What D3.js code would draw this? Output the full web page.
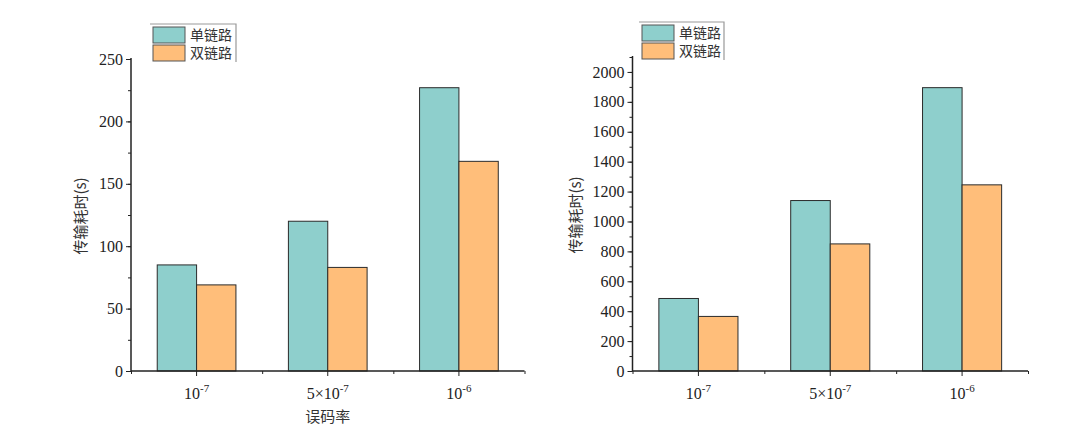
<!DOCTYPE html>
<html><head><meta charset="utf-8">
<script src="https://cdn.jsdelivr.net/npm/d3@7"></script>
<style>body{margin:0;background:#fff}svg{display:block}
.serif{font-family:"Liberation Serif","Times New Roman","DejaVu Serif",serif}
.cjk{font-family:"Noto Sans CJK SC",sans-serif}</style>
</head><body>
<svg id="c" width="1080" height="447"></svg>
<script>
const categories = ["1e-7", "5e-7", "1e-6"];
const seriesNames = ["单链路", "双链路"];
const leftSingle = [85, 120, 227];
const leftDouble = [69, 83, 168];
const rightSingle = [485, 1140, 1895];
const rightDouble = [365, 850, 1245];
const leftTicks = [0, 50, 100, 150, 200, 250];
const rightTicks = [0, 200, 400, 600, 800, 1000, 1200, 1400, 1600, 1800, 2000];
const yTitle = "传输耗时(s)";
const xTitle = "误码率";
const colors = ["#8ECFCC", "#FFBE7A"];

const svg = d3.select("#c");

function catLabel(t, c) {
  const base = c === "5e-7" ? "5×10" : "10";
  const exp = c === "1e-6" ? "-6" : "-7";
  t.append("tspan").text(base);
  t.append("tspan").attr("dy", -7).style("font-size", "11px").text(exp);
}

function panel(o) {
  const g = svg.append("g");
  const x = d3.scaleBand().domain(categories).range([o.x0, o.x1]);
  const y = d3.scaleLinear().domain([0, o.ymax]).range([o.y0, o.ytop]);
  const inner = d3.scaleBand().domain([0, 1]).range([0, x.bandwidth() * 0.6]);
  const off = x.bandwidth() * 0.2;
  [o.s1, o.s2].forEach((vals, si) => {
    g.selectAll(null).data(vals).enter().append("rect")
      .attr("x", (d, i) => x(categories[i]) + off + inner(si))
      .attr("y", d => y(d))
      .attr("width", inner.bandwidth())
      .attr("height", d => y(0) - y(d))
      .attr("fill", colors[si])
      .attr("stroke", "#2b2b2b").attr("stroke-width", 1);
  });
  // y axis
  const ya = g.append("g").attr("transform", `translate(${o.x0},0)`);
  ya.append("g").call(d3.axisLeft(y).tickValues(d3.range(0, o.ymax + 1e-9, o.minor)).tickSize(3).tickFormat(""));
  ya.append("g").call(d3.axisLeft(y).tickValues(o.ticks).tickSize(5).tickPadding(3).tickFormat(d3.format("d")));
  ya.selectAll("path.domain").remove();
  ya.append("line").attr("x1", 0).attr("x2", 0).attr("y1", o.y0).attr("y2", o.ytop - (o.ext||0)).attr("stroke", "#222").attr("stroke-width", 1.5);
  ya.selectAll("g").attr("font-family", null);
  ya.selectAll("text").attr("class", "serif").attr("font-family", null).style("font-size", "16px").attr("fill", "#222");
  ya.selectAll("line").attr("stroke", "#222");
  // x axis
  const xa = g.append("g").attr("transform", `translate(0,${o.y0})`);
  const xl = d3.scaleLinear().domain([0, 3]).range([o.x0, o.x1]);
  xa.append("g").call(d3.axisBottom(xl).tickValues([0, 1, 2, 3]).tickSize(3).tickFormat(""));
  xa.append("g").call(d3.axisBottom(x).tickSize(5).tickFormat(""));
  xa.selectAll("path.domain").remove();
  xa.append("line").attr("x1", o.x0).attr("x2", o.x1).attr("y1", 0).attr("y2", 0).attr("stroke", "#222").attr("stroke-width", 1.5);
  xa.selectAll("line").attr("stroke", "#222");
  categories.forEach(c => {
    const t = xa.append("text").attr("x", x(c) + x.bandwidth() / 2).attr("y", 28)
      .attr("text-anchor", "middle").attr("class", "serif").style("font-size", "16px").attr("fill", "#222");
    catLabel(t, c);
  });
  // titles
  g.append("text").attr("transform", `translate(${o.ytx},${(o.y0 + o.ytop) / 2 + 1}) rotate(-90)`)
    .attr("text-anchor", "middle").attr("class", "cjk").style("font-size", "15px").attr("fill", "#333").text(yTitle);
  if (o.xt) g.append("text").attr("x", (o.x0 + o.x1) / 2).attr("y", o.y0 + 51).attr("text-anchor", "middle")
    .attr("class", "cjk").style("font-size", "15px").attr("fill", "#333").text(xTitle);
  // legend
  const L = o.leg;
  g.append("polyline").attr("points", `${L.x},${L.y} ${L.x + L.w},${L.y} ${L.x + L.w},${L.y + L.h}`)
    .attr("fill", "none").attr("stroke", "#999").attr("stroke-width", 1.2);
  seriesNames.forEach((n, i) => {
    g.append("rect").attr("x", L.x + 3).attr("y", L.y + 3 + i * 18).attr("width", 32).attr("height", 16)
      .attr("fill", colors[i]).attr("stroke", "#555").attr("stroke-width", 1);
    g.append("text").attr("x", L.x + 40).attr("y", L.y + 16 + i * 18).attr("class", "cjk")
      .style("font-size", "14px").attr("fill", "#333").text(n);
  });
}

panel({x0: 131, x1: 524.5, y0: 371, ytop: 59, ymax: 250, ticks: leftTicks, minor: 25, s1: leftSingle, s2: leftDouble,
  ytx: 86, xt: true, ext: 1, leg: {x: 150, y: 24, w: 86, h: 38}});
panel({x0: 632.5, x1: 1028, y0: 371, ytop: 57, ymax: 2100, ticks: rightTicks, minor: 100, s1: rightSingle, s2: rightDouble,
  ytx: 581, xt: false, ext: 1, leg: {x: 639, y: 22, w: 85, h: 38}});
</script>
</body></html>
